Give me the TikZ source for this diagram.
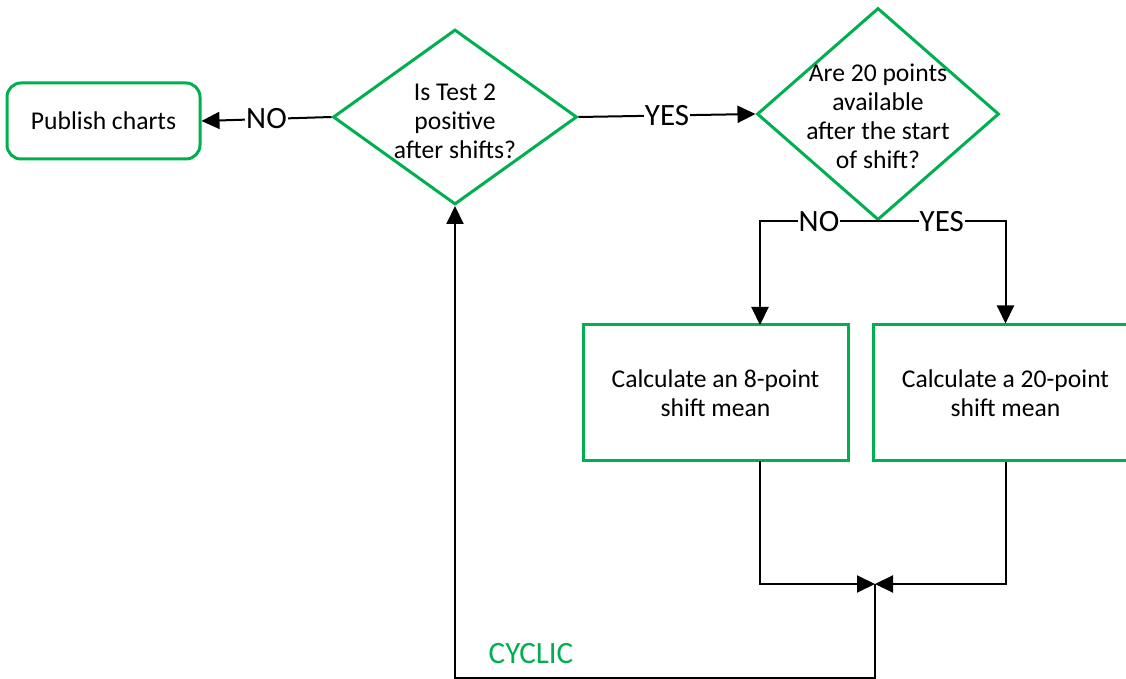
\documentclass[tikz,border=0pt]{standalone}
\usepackage{fontspec}
\setmainfont{Carlito}
\usetikzlibrary{shapes.geometric,arrows.meta}
\definecolor{flowgreen}{RGB}{0,176,80}
\tikzset{
    txt/.style={font=\fontsize{12.8}{14.5}\selectfont,align=center},
    lbl/.style={fill=white,inner sep=0.5pt,font=\fontsize{15.5}{18}\selectfont},
    proc/.style={draw=flowgreen,line width=1.5pt,minimum width=132.5pt,minimum height=68pt,txt},
    term/.style={proc,rounded corners=7pt,minimum width=96.5pt,minimum height=38pt},
    decide/.style={draw=flowgreen,line width=1.5pt,diamond,inner sep=0pt},
    line/.style={line width=1pt},
    arr/.style={-{Triangle[length=9pt,width=8.5pt]}}
}
\begin{document}
\begin{tikzpicture}[x=0.5pt,y=-0.5pt]
    \useasboundingbox(0,0)rectangle(1126,679);

    \node[term](pub)at(103.5,121){Publish charts};
    \node[decide,minimum width=122pt,minimum height=87.5pt,
        label={[txt,yshift=-2pt]center:Is Test 2\\positive\\after shifts?}](test)at(455,117){};
    \node[decide,minimum width=121pt,minimum height=106pt,
        label={[txt,yshift=-1pt]center:Are 20 points\\available\\after the start\\of shift?}](avail)at(878,114){};
    \node[proc](mean8)at(715.5,393){Calculate an 8-point\\shift mean};
    \node[proc](mean20)at(1005.5,393){Calculate a 20-point\\shift mean};

    \coordinate(in8)at(760,325);
    \coordinate(out8)at(760,461);
    \coordinate(J)at(875,584);
    \coordinate(B)at(455,678);

    \draw[line,arr](test.west)--node[lbl]{NO}(pub.east);
    \draw[line,arr](test.east)--node[lbl]{YES}(avail.west);
    \draw[line,arr](avail.south)-|node[lbl,pos=0.25]{NO}(in8);
    \draw[line,arr](avail.south)-|node[lbl,pos=0.25]{YES}(mean20.north);
    \draw[line,arr](out8)|-(J);
    \draw[line,arr](mean20.south)|-(J);
    \draw[line,arr](J)|-(B)--(test.south);

    \node[font=\fontsize{15.5}{18}\selectfont,text=flowgreen](cyc)at(531,654){CYCLIC};
\end{tikzpicture}
\end{document}
